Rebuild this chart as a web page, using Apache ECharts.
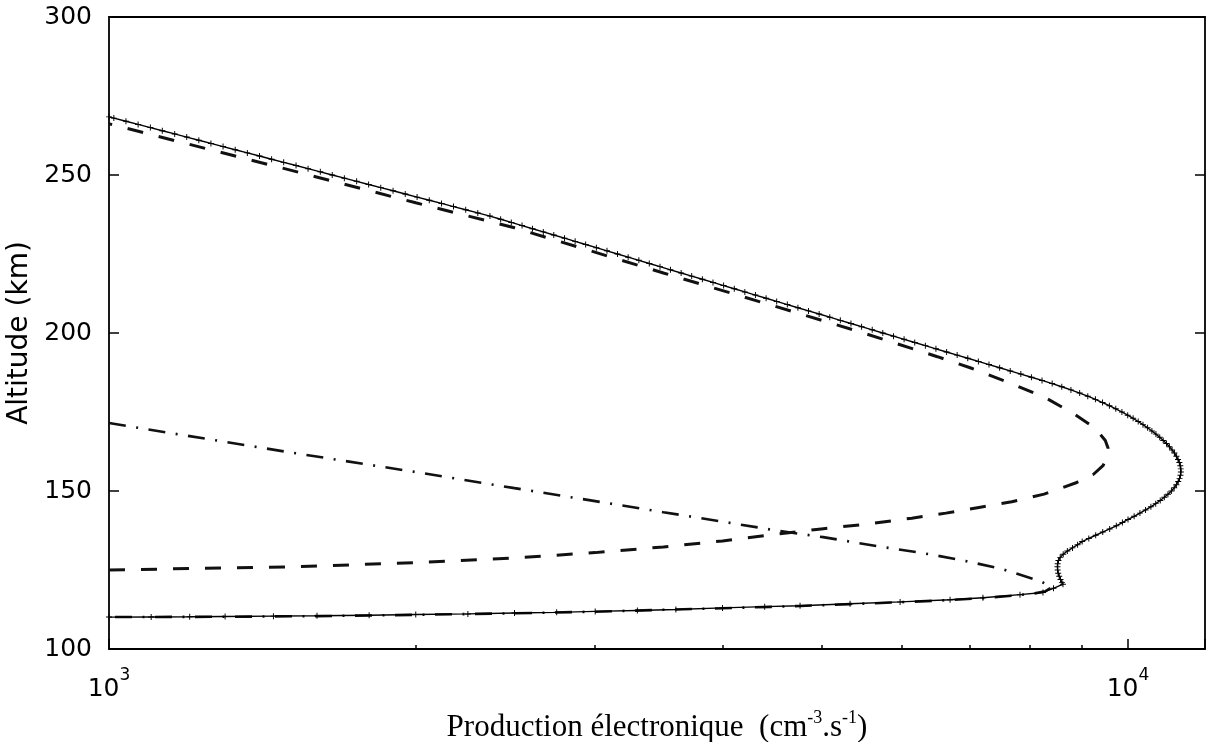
<!DOCTYPE html>
<html lang="fr">
<head>
<meta charset="UTF-8">
<title>Production électronique</title>
<script src="https://cdn.jsdelivr.net/npm/echarts@6.0.0/dist/echarts.min.js"></script>
<style>
    html, body { margin: 0; padding: 0; background: #fff; }
    #productionChart { width: 1207px; height: 742px; }
</style>
</head>
<body>
<div id="productionChart"></div>
<script>
// 坐标轴刻度
const xMajorTicks = [1000, 10000];
const xMinorTicks = [2000, 3000, 4000, 5000, 6000, 7000, 8000, 9000];
const yTicks = [100, 150, 200, 250, 300];
const xRange = [1000, 11900];

// 总产率 (实线, 带 + 标记) [production, altitude]
const totalProd = [
    [1000, 110.1], [1100, 110.15], [1200, 110.2], [1300, 110.3], [1450, 110.4], [1600, 110.5],
    [1800, 110.7], [2000, 110.9], [2250, 111.1], [2500, 111.4], [2750, 111.6], [3000, 111.9],
    [3300, 112.2], [3600, 112.5], [4000, 113.0], [4400, 113.4], [4766, 113.7], [5336, 114.3],
    [5975, 114.9], [6689, 115.6], [7205, 116.2], [7834, 117.2], [8252, 117.9], [8450, 119.2],
    [8633, 120.5], [8613, 121], [8585, 122], [8560, 123], [8540, 124], [8530, 125], [8526, 126],
    [8530, 127], [8545, 128], [8579, 129], [8638, 130], [8719, 131], [8821, 132], [8923, 133],
    [9016, 134], [9152, 135], [9296, 136], [9445, 137], [9594, 138], [9739, 139], [9874, 140],
    [10000, 141], [10139, 142], [10273, 143], [10404, 144], [10530, 145], [10646, 146],
    [10755, 147], [10855, 148], [10944, 149], [11030, 150], [11099, 151], [11155, 152],
    [11201, 153], [11235, 154], [11258, 155], [11269, 156], [11266, 157], [11253, 158],
    [11230, 159], [11196, 160], [11155, 161], [11106, 162], [11047, 163], [10981, 164],
    [10908, 165], [10828, 166], [10743, 167], [10651, 168], [10554, 169], [10452, 170],
    [10344, 171], [10233, 172], [10116, 173], [9993, 174], [9863, 175], [9727, 176],
    [9588, 177], [9441, 178], [9290, 179], [9131, 180], [8965, 181], [8790, 182], [8610, 183],
    [8425, 184], [8234, 185], [8039, 186], [7849, 187], [7663, 188], [7482, 189], [7304, 190],
    [7131, 191], [6962, 192], [6797, 193], [6637, 194], [6479, 195], [6326, 196], [6176, 197],
    [6029, 198], [5887, 199], [5746, 200], [5610, 201], [5477, 202], [5347, 203], [5220, 204],
    [5097, 205], [4976, 206], [4858, 207], [4743, 208], [4631, 209], [4521, 210], [4414, 211],
    [4309, 212], [4207, 213], [4108, 214], [4010, 215], [3915, 216], [3822, 217], [3731, 218],
    [3643, 219], [3556, 220], [3473, 221], [3390, 222], [3311, 223], [3232, 224], [3155, 225],
    [3081, 226], [3008, 227], [2936, 228], [2867, 229], [2799, 230], [2732, 231], [2668, 232],
    [2604, 233], [2543, 234], [2482, 235], [2423, 236], [2365, 237], [2301, 238], [2239, 239],
    [2178, 240], [2120, 241], [2062, 242], [2006, 243], [1953, 244], [1900, 245], [1848, 246],
    [1798, 247], [1750, 248], [1702, 249], [1656, 250], [1612, 251], [1568, 252], [1526, 253],
    [1484, 254], [1444, 255], [1405, 256], [1367, 257], [1330, 258], [1294, 259], [1259, 260],
    [1225, 261], [1192, 262], [1160, 263], [1128, 264], [1098, 265], [1068, 266], [1039, 267],
    [1011, 268], [1000, 268.4]
];

// 虚线分量
const dashedProd = [
    [1000, 125.0], [1500, 126.0], [2000, 127.3], [2500, 128.8], [3000, 130.5], [3500, 132.3],
    [4000, 134.2], [4500, 136.3], [5000, 138.0], [5500, 139.4], [6135, 141.4], [6626, 143.0],
    [7140, 144.8], [7690, 146.6], [8273, 149.0], [8893, 152.6], [9250, 155.3], [9450, 158.0],
    [9550, 161.0], [9560, 163.5], [9500, 166.0], [9276, 170.0], [8851, 174.4], [8310, 179.4],
    [7656, 184.2], [7000, 189.0], [6500, 192.5], [5500, 200.0], [4500, 208.5], [3500, 219.0],
    [2500, 233.3], [2000, 241.2], [1500, 251.7], [1000, 266.2]
];

// 点划线分量
const dashDotProd = [
    [1000, 171.5], [1500, 162.3], [2000, 156.0], [2500, 150.9], [3000, 146.8], [3500, 143.3],
    [4000, 140.3], [4500, 137.6], [5021, 135.4], [5737, 132.3], [6280, 130.4], [6875, 128.1],
    [7522, 125.3], [8199, 121.5], [8420, 119.6], [8300, 118.3], [8100, 117.6], [7834, 117.1],
    [7205, 116.1], [6689, 115.5], [5975, 114.8], [5336, 114.2], [4766, 113.6], [4000, 112.9],
    [3500, 112.4], [3000, 111.8], [2500, 111.3], [2000, 110.8], [1600, 110.4], [1300, 110.2],
    [1000, 110.1]
];

document.addEventListener('DOMContentLoaded', function() {
    initProductionChart();
});

// 10^n 形式的刻度标签
function formatPower(value) {
    const isMajor = xMajorTicks.some(t => Math.abs(t - value) < t * 1e-6);
    if (!isMajor) {
        return '';
    }
    return '{b|10}{s|' + Math.round(Math.log10(value)) + '}';
}

function initProductionChart() {
    const chart = echarts.init(document.getElementById('productionChart'));
    const frameLine = { color: '#000', width: 1.8 };
    const tickLine = { color: '#000', width: 1.5 };
    const plusSymbol = 'path://M0,4.2H10V5.8H0Z M4.2,0H5.8V10H4.2Z';

    const option = {
        animation: false,
        backgroundColor: '#fff',
        // 关闭 v6 的自动外边界收缩, 保持绘图区位置固定
        grid: { left: 109, right: 2, top: 17, bottom: 93, outerBoundsMode: 'none' },
        xAxis: [
            {
                type: 'log',
                logBase: 10,
                min: xRange[0],
                max: xRange[1],
                position: 'bottom',
                name: '{t|Production électronique  (cm}{u|-3}{t|.s}{u|-1}{t|)}',
                nameLocation: 'middle',
                nameGap: 60,
                nameTextStyle: {
                    rich: {
                        t: { fontFamily: 'Liberation Serif', fontSize: 31, color: '#000', lineHeight: 38 },
                        u: { fontFamily: 'Liberation Serif', fontSize: 18, color: '#000', lineHeight: 14, verticalAlign: 'top' }
                    }
                },
                axisLine: { show: true, onZero: false, lineStyle: frameLine },
                axisTick: { show: true, inside: true, length: 10, lineStyle: tickLine },
                axisLabel: {
                    margin: 18,
                    formatter: formatPower,
                    rich: {
                        b: { fontFamily: 'DejaVu Sans', fontSize: 25, color: '#000', lineHeight: 44 },
                        s: { fontFamily: 'DejaVu Sans', fontSize: 17, color: '#000', lineHeight: 14, verticalAlign: 'top' }
                    }
                },
                splitLine: { show: false }
            },
            {
                // 次刻度 (对数空间中的辅助轴)
                type: 'value',
                min: Math.log10(xRange[0]),
                max: Math.log10(xRange[1]),
                position: 'bottom',
                axisLine: { show: false },
                axisTick: {
                    show: true, inside: true, length: 4, lineStyle: tickLine,
                    customValues: xMinorTicks.map(v => Math.log10(v))
                },
                axisLabel: { show: false },
                splitLine: { show: false }
            },
            {
                type: 'log',
                logBase: 10,
                min: xRange[0],
                max: xRange[1],
                position: 'top',
                axisLine: { show: true, onZero: false, lineStyle: frameLine },
                axisTick: { show: false },
                axisLabel: { show: false },
                splitLine: { show: false }
            }
        ],
        yAxis: [
            {
                type: 'value',
                min: yTicks[0],
                max: yTicks[yTicks.length - 1],
                interval: yTicks[1] - yTicks[0],
                position: 'left',
                name: 'Altitude (km)',
                nameLocation: 'middle',
                nameGap: 61,
                nameTextStyle: { fontFamily: 'DejaVu Sans', fontSize: 28, color: '#000' },
                axisLine: { show: true, onZero: false, lineStyle: frameLine },
                axisTick: { show: true, inside: true, length: 10, lineStyle: tickLine },
                axisLabel: { margin: 17, fontFamily: 'DejaVu Sans', fontSize: 25, color: '#000' },
                splitLine: { show: false }
            },
            {
                type: 'value',
                min: yTicks[0],
                max: yTicks[yTicks.length - 1],
                interval: yTicks[1] - yTicks[0],
                position: 'right',
                axisLine: { show: true, onZero: false, lineStyle: frameLine },
                axisTick: { show: true, inside: true, length: 10, lineStyle: tickLine },
                axisLabel: { show: false },
                splitLine: { show: false }
            }
        ],
        series: [
            {
                name: 'total',
                type: 'line',
                data: totalProd,
                symbol: plusSymbol,
                symbolSize: 6,
                showSymbol: true,
                itemStyle: { color: '#000' },
                lineStyle: { color: '#000', width: 1.4 },
                z: 3
            },
            {
                name: 'dashed',
                type: 'line',
                data: dashedProd,
                symbol: 'none',
                lineStyle: { color: '#111', width: 3, type: [16, 16] },
                z: 2
            },
            {
                name: 'dashdot',
                type: 'line',
                data: dashDotProd,
                symbol: 'none',
                lineStyle: { color: '#111', width: 2.6, type: [17, 10.5, 2, 10.5] },
                z: 2
            }
        ]
    };
    chart.setOption(option);

    window.addEventListener('resize', function() {
        chart.resize();
    });
}
</script>
</body>
</html>
